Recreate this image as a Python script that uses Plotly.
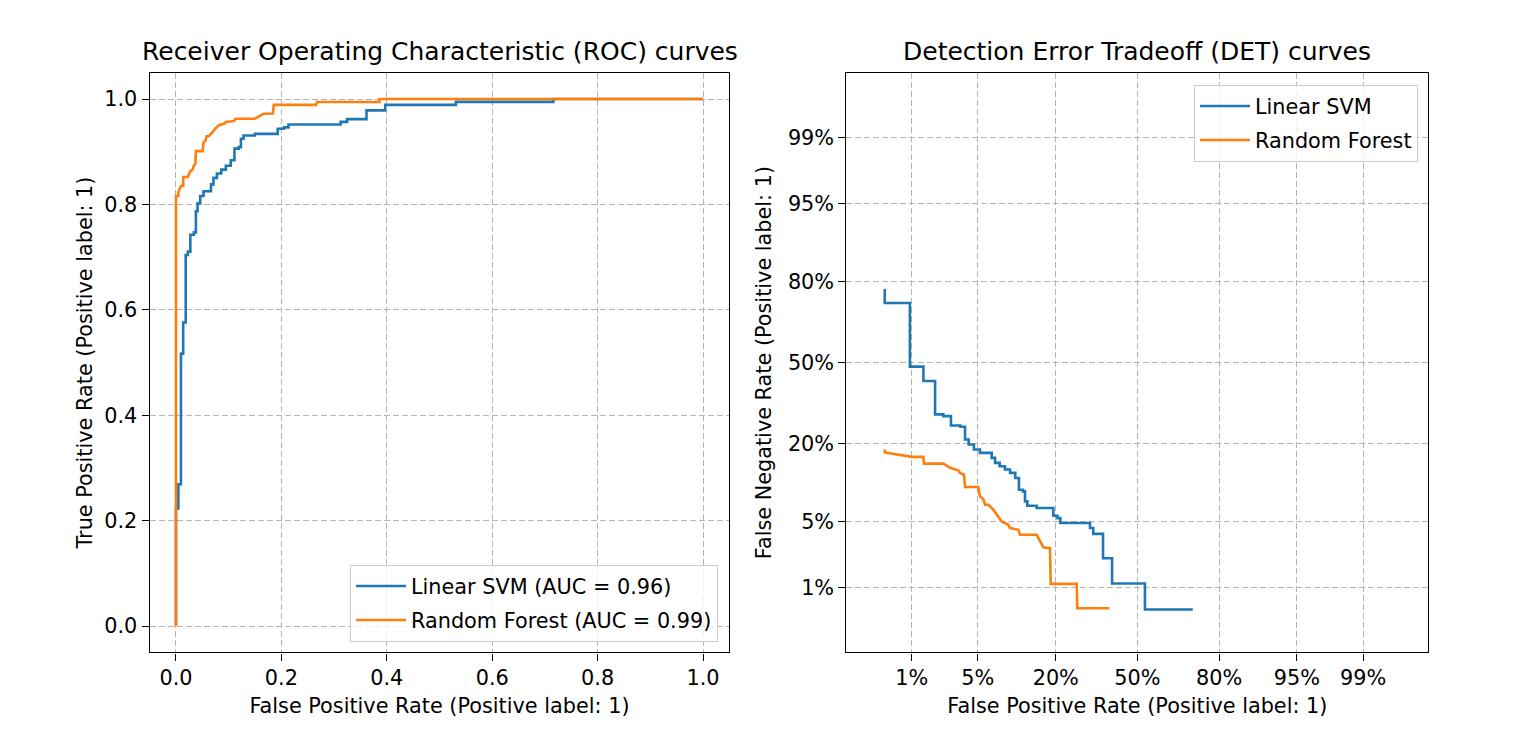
import plotly.graph_objects as go
from statistics import NormalDist

# ---------------- data ----------------
svm_name = "Linear SVM"
rf_name = "Random Forest"
svm_auc = 0.96
rf_auc = 0.99

# ROC vertices: false positive rate / true positive rate
svm_fpr = [0.0, 0.0, 0.0046, 0.0046, 0.0095, 0.0095, 0.0137, 0.0137, 0.0185, 0.0185,
           0.0227, 0.0227, 0.0273, 0.0273, 0.034, 0.034, 0.0378, 0.0378, 0.041, 0.041,
           0.046, 0.046, 0.0523, 0.0523, 0.0665, 0.0665, 0.0711, 0.0711, 0.0778, 0.0778,
           0.086, 0.086, 0.0946, 0.0946, 0.104, 0.104, 0.111, 0.111, 0.119, 0.119,
           0.1233, 0.1233, 0.1282, 0.1282, 0.1496, 0.1496, 0.193, 0.193, 0.205, 0.205,
           0.2135, 0.2135, 0.3125, 0.3125, 0.3246, 0.3246, 0.3615, 0.3615, 0.397, 0.397,
           0.531, 0.531, 0.716, 0.716, 1.0]
svm_tpr = [0.0, 0.223, 0.223, 0.269, 0.269, 0.517, 0.517, 0.576, 0.576, 0.704,
           0.704, 0.7105, 0.7105, 0.7425, 0.7425, 0.747, 0.747, 0.787, 0.787, 0.802,
           0.802, 0.816, 0.816, 0.825, 0.825, 0.838, 0.838, 0.8504, 0.8504, 0.8586,
           0.8586, 0.866, 0.866, 0.8733, 0.8733, 0.8838, 0.8838, 0.9059, 0.9059, 0.9088,
           0.9088, 0.9246, 0.9246, 0.9308, 0.9308, 0.9339, 0.9339, 0.9436, 0.9436, 0.9463,
           0.9463, 0.9516, 0.9516, 0.9566, 0.9566, 0.9619, 0.9619, 0.9786, 0.9786, 0.9889,
           0.9889, 0.9947, 0.9947, 1.0, 1.0]

rf_fpr = [0.0, 0.0, 0.0046, 0.0046, 0.010, 0.0137, 0.0139, 0.0227, 0.0267, 0.0324,
          0.0337, 0.0369, 0.0378, 0.0505, 0.0523, 0.0561, 0.0581, 0.0622, 0.0687, 0.0734,
          0.0809, 0.0916, 0.0946, 0.1098, 0.1131, 0.1496, 0.1577, 0.166, 0.1838, 0.1857,
          0.2657, 0.2677, 0.386, 0.386, 1.0]
rf_tpr = [0.0, 0.816, 0.816, 0.824, 0.8355, 0.8355, 0.8522, 0.8522, 0.8621, 0.8676,
          0.8733, 0.877, 0.9011, 0.9011, 0.917, 0.921, 0.9294, 0.9294, 0.9361, 0.9424,
          0.95, 0.9534, 0.9566, 0.9583, 0.9627, 0.9627, 0.9673, 0.972, 0.9726, 0.989,
          0.989, 0.9945, 0.9945, 1.0, 1.0]

roc_ticks = [0.0, 0.2, 0.4, 0.6, 0.8, 1.0]
det_ticks = [0.001, 0.01, 0.05, 0.20, 0.5, 0.80, 0.95, 0.99, 0.999]
det_tick_labels = ["0.1%", "1%", "5%", "20%", "50%", "80%", "95%", "99%", "99.9%"]

# ---------------- helpers ----------------
ND = NormalDist()


def det_xy(fpr, tpr):
    xs, ys = [], []
    for f, t in zip(fpr, tpr):
        fn = 1.0 - t
        if 0.0 < f < 1.0 and 0.0 < fn < 1.0:
            xs.append(ND.inv_cdf(f))
            ys.append(ND.inv_cdf(fn))
    return xs, ys


BLUE = "#1f77b4"
ORANGE = "#ff7f0e"
FONT = "DejaVu Sans"
OFF = 8                      # default page body margin
W, H = 1519 - OFF, 730 - OFF
LW = 2.6
FS = 20.8
TFS = 25


def px(xpage):
    return (xpage - OFF) / W


def py(ypage):
    return (730 - ypage) / H


fig = go.Figure()

fig.add_trace(go.Scatter(x=svm_fpr, y=svm_tpr, mode="lines",
                         line=dict(color=BLUE, width=LW),
                         name=f"{svm_name} (AUC = {svm_auc:.2f})", legendgroup="a",
                         xaxis="x", yaxis="y", legend="legend"))
fig.add_trace(go.Scatter(x=rf_fpr, y=rf_tpr, mode="lines",
                         line=dict(color=ORANGE, width=LW),
                         name=f"{rf_name} (AUC = {rf_auc:.2f})", legendgroup="b",
                         xaxis="x", yaxis="y", legend="legend"))

sx, sy = det_xy(svm_fpr, svm_tpr)
rx, ry = det_xy(rf_fpr, rf_tpr)
fig.add_trace(go.Scatter(x=sx, y=sy, mode="lines",
                         line=dict(color=BLUE, width=LW), name=svm_name, legendgroup="c",
                         xaxis="x2", yaxis="y2", legend="legend2"))
fig.add_trace(go.Scatter(x=rx, y=ry, mode="lines",
                         line=dict(color=ORANGE, width=LW), name=rf_name, legendgroup="d",
                         xaxis="x2", yaxis="y2", legend="legend2"))

det_tickvals = [ND.inv_cdf(p) for p in det_ticks]

axis_common = dict(
    showline=True, linecolor="black", linewidth=1.2, mirror=True,
    ticks="outside", ticklen=7, tickwidth=1.2, tickcolor="black",
    showgrid=True, gridcolor="#b5b5b5", gridwidth=1.1, griddash="6px,3px",
    zeroline=False,
    tickfont=dict(family=FONT, size=FS, color="black"),
    title_font=dict(family=FONT, size=FS, color="black"),
)

yd = [py(652.4), py(72.7)]
legend_common = dict(bgcolor="rgba(255,255,255,0.8)", bordercolor="#cccccc", borderwidth=1,
                     itemwidth=50, tracegroupgap=4, traceorder="grouped",
                     font=dict(family=FONT, size=FS, color="black"))

fig.update_layout(
    width=W, height=H,
    margin=dict(l=0, r=0, t=0, b=0),
    paper_bgcolor="white", plot_bgcolor="white",
    font=dict(family=FONT, color="black"),
    xaxis=dict(domain=[px(149.6), px(729.4)], range=[-0.05, 1.05],
               tickvals=roc_ticks, ticktext=[f"{v:.1f}" for v in roc_ticks],
               title=dict(text="False Positive Rate (Positive label: 1)", standoff=8),
               anchor="y", **axis_common),
    yaxis=dict(domain=yd, range=[-0.05, 1.05],
               tickvals=roc_ticks, ticktext=[f"{v:.1f}" for v in roc_ticks],
               title=dict(text="True Positive Rate (Positive label: 1)", standoff=5),
               anchor="x", **axis_common),
    xaxis2=dict(domain=[px(846.4), px(1428.4)], range=[-3, 3],
                tickvals=det_tickvals, ticktext=det_tick_labels,
                title=dict(text="False Positive Rate (Positive label: 1)", standoff=8),
                anchor="y2", **axis_common),
    yaxis2=dict(domain=yd, range=[-3, 3],
                tickvals=det_tickvals, ticktext=det_tick_labels,
                title=dict(text="False Negative Rate (Positive label: 1)", standoff=10),
                anchor="x2", **axis_common),
    legend=dict(x=px(718), y=py(642), xanchor="right", yanchor="bottom", **legend_common),
    legend2=dict(x=px(1418), y=py(85), xanchor="right", yanchor="top", **legend_common),
    annotations=[
        dict(text="Receiver Operating Characteristic (ROC) curves",
             x=px((149.6 + 729.4) / 2), y=py(52), xref="paper", yref="paper",
             xanchor="center", yanchor="middle", showarrow=False,
             font=dict(family=FONT, size=TFS, color="black")),
        dict(text="Detection Error Tradeoff (DET) curves",
             x=px((846.4 + 1428.4) / 2), y=py(52), xref="paper", yref="paper",
             xanchor="center", yanchor="middle", showarrow=False,
             font=dict(family=FONT, size=TFS, color="black")),
    ],
)

fig.write_html("out.html")
